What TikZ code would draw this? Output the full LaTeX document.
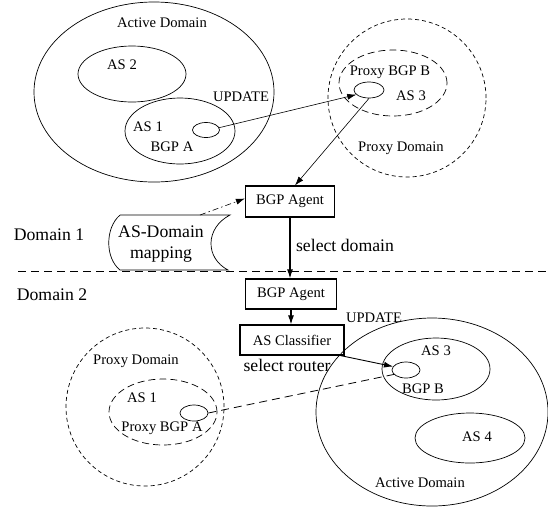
\documentclass[tikz,border=0pt]{standalone}
\usepackage{fontspec}
\setmainfont{Liberation Serif}
\usetikzlibrary{shapes.geometric,arrows.meta}
\begin{document}
\begin{tikzpicture}[x=1pt,y=-1pt,
  ell/.style={ellipse,draw,line width=0.7pt,inner sep=0pt},
  pdash/.style={dash pattern=on 4pt off 3pt},
  adash/.style={dash pattern=on 7pt off 4pt},
  boxn/.style={draw,line width=1.2pt,inner sep=0pt,font=\fontsize{14.6}{17}\selectfont},
  sm/.style={inner sep=0pt,font=\fontsize{14.6}{17}\selectfont},
  lg/.style={inner sep=0pt,font=\fontsize{17.7}{21}\selectfont,align=center},
  arr/.style={-{Latex[length=9pt,width=6pt]},line width=0.6pt},
  barr/.style={-{Latex[length=9pt,width=6pt]},line width=1.1pt}]
\useasboundingbox (0,0) rectangle (548,507);
% top domain 1
\node[ell,minimum width=240pt,minimum height=180pt] (topdom) at (154,92) {};
\node[ell,minimum width=108pt,minimum height=56pt] (as2) at (132,74) {};
\node[ell,minimum width=110pt,minimum height=66pt] (as1) at (180,131) {};
\node[ell,minimum width=27pt,minimum height=15pt] (bgpa) at (206,130) {};
\node[ell,pdash,minimum width=158pt,minimum height=158pt] (pdomb) at (407,98) {};
\node[ell,adash,minimum width=108pt,minimum height=66pt] (as3p) at (393,83) {};
\node[ell,minimum width=30pt,minimum height=16pt] (pbgpb) at (369,90) {};
\node[sm] (t1) at (162,23) {Active Domain};
\node[sm] (t2) at (122,65) {AS 2};
\node[sm] (t3) at (241,97) {UPDATE};
\node[sm] (t4) at (148,127) {AS 1};
\node[sm] (t5) at (172,147) {BGP A};
\node[sm] (t6) at (390,72) {Proxy BGP B};
\node[sm] (t7) at (411,96) {AS 3};
\node[sm] (t8) at (401,148) {Proxy Domain};
% agents
\node[boxn,minimum width=89pt,minimum height=31pt] (agent1) at (290,201.5) {BGP Agent};
\node[boxn,minimum width=91pt,minimum height=30pt] (agent2) at (291,294) {BGP Agent};
\node[boxn,minimum width=104pt,minimum height=30pt] (classifier) at (292,340) {AS Classifier};
% mapping shape
\coordinate (mtop) at (200,215);
\draw[line width=0.7pt] (120,215) -- (230,215) .. controls (205,228) and (205,258) .. (228,270) -- (120,270) .. controls (105,258) and (105,228) .. (120,215);
\node[lg] (map) at (161,244) {AS-Domain\\mapping};
\node[lg] (d1) at (49,235) {Domain 1};
\node[lg] (d2) at (52,295) {Domain 2};
\node[lg] (seld) at (345,245) {select domain};
\node[lg] (selr) at (287,365) {select router};
\node[sm] (t9) at (374,318) {UPDATE};
% separator
\coordinate (sepl) at (18,271);
\coordinate (sepr) at (548,271);
\draw[line width=0.8pt,dash pattern=on 8pt off 5pt] (sepl) -- (sepr);
% bottom domain 2
\node[ell,minimum width=232pt,minimum height=188pt] (botdom) at (432,412) {};
\node[ell,minimum width=108pt,minimum height=62pt] (as3) at (436,369) {};
\node[ell,minimum width=28pt,minimum height=16pt] (bgpb) at (406,370) {};
\node[ell,minimum width=110pt,minimum height=50pt] (as4) at (470,438) {};
\node[ell,pdash,minimum width=158pt,minimum height=158pt] (pdoma) at (145,407) {};
\node[ell,adash,minimum width=108pt,minimum height=66pt] (as1p) at (163,412) {};
\node[ell,minimum width=28pt,minimum height=16pt] (pbgpa) at (194,413) {};
\node[sm] (b1) at (436,351) {AS 3};
\node[sm] (b2) at (423,389) {BGP B};
\node[sm] (b3) at (477,437) {AS 4};
\node[sm] (b4) at (420,483) {Active Domain};
\node[sm] (b5) at (136,361) {Proxy Domain};
\node[sm] (b6) at (142,398) {AS 1};
\node[sm] (b7) at (162,428) {Proxy BGP A};
% connectors
\draw[arr] (bgpa.10) -- (pbgpb.200);
\draw[arr] (pbgpb.south) -- ([xshift=5pt]agent1.north);
\draw[arr,dash pattern=on 6pt off 3pt on 1.5pt off 3pt] (mtop) -- ([yshift=3pt]agent1.west);
\draw[barr] (agent1.south) -- (agent1.south |- agent2.north);
\draw[barr] (agent2.south) -- (agent2.south |- classifier.north);
\draw[arr,line width=0.9pt] ([xshift=-4pt]classifier.south east) -- (bgpb.165);
\draw[line width=0.8pt,dash pattern=on 8pt off 5pt] (pbgpa.east) -- (bgpb.200);
\end{tikzpicture}
\end{document}
